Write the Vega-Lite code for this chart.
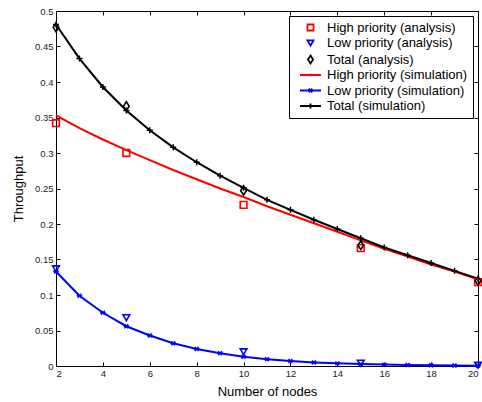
{
  "$schema": "https://vega.github.io/schema/vega-lite/v6.json",
  "autosize": "none",
  "width": 422,
  "height": 355,
  "padding": {"left": 56, "top": 11, "right": 4, "bottom": 36},
  "background": "white",
  "config": {
    "font": "Liberation Sans",
    "view": {"stroke": "black", "strokeWidth": 1},
    "axis": {
      "grid": false, "domain": false, "tickColor": "black", "tickSize": -4, "tickWidth": 1,
      "labelFont": "Liberation Sans", "labelFontSize": 9.5, "labelColor": "#222",
      "titleFont": "Liberation Sans", "titleFontSize": 13, "titleFontWeight": "normal", "titleColor": "black"
    },
    "legend": {
      "labelFont": "Liberation Sans", "labelFontSize": 13, "labelColor": "black",
      "strokeColor": "black", "fillColor": "white", "padding": 5,
      "symbolSize": 36, "symbolStrokeWidth": 1.8, "rowPadding": 1.5,
      "symbolOffset": 10, "labelOffset": 10
    }
  },
  "datasets": {
    "sim": [
      {"n": 2, "series": "High priority (simulation)", "v": 0.353},
      {"n": 3, "series": "High priority (simulation)", "v": 0.335},
      {"n": 4, "series": "High priority (simulation)", "v": 0.319},
      {"n": 5, "series": "High priority (simulation)", "v": 0.304},
      {"n": 6, "series": "High priority (simulation)", "v": 0.290},
      {"n": 7, "series": "High priority (simulation)", "v": 0.276},
      {"n": 8, "series": "High priority (simulation)", "v": 0.263},
      {"n": 9, "series": "High priority (simulation)", "v": 0.250},
      {"n": 10, "series": "High priority (simulation)", "v": 0.238},
      {"n": 11, "series": "High priority (simulation)", "v": 0.225},
      {"n": 12, "series": "High priority (simulation)", "v": 0.213},
      {"n": 13, "series": "High priority (simulation)", "v": 0.201},
      {"n": 14, "series": "High priority (simulation)", "v": 0.189},
      {"n": 15, "series": "High priority (simulation)", "v": 0.177},
      {"n": 16, "series": "High priority (simulation)", "v": 0.165},
      {"n": 17, "series": "High priority (simulation)", "v": 0.154},
      {"n": 18, "series": "High priority (simulation)", "v": 0.143},
      {"n": 19, "series": "High priority (simulation)", "v": 0.133},
      {"n": 20, "series": "High priority (simulation)", "v": 0.122},
      {"n": 2, "series": "Low priority (simulation)", "v": 0.133},
      {"n": 3, "series": "Low priority (simulation)", "v": 0.099},
      {"n": 4, "series": "Low priority (simulation)", "v": 0.075},
      {"n": 5, "series": "Low priority (simulation)", "v": 0.056},
      {"n": 6, "series": "Low priority (simulation)", "v": 0.043},
      {"n": 7, "series": "Low priority (simulation)", "v": 0.032},
      {"n": 8, "series": "Low priority (simulation)", "v": 0.024},
      {"n": 9, "series": "Low priority (simulation)", "v": 0.018},
      {"n": 10, "series": "Low priority (simulation)", "v": 0.013},
      {"n": 11, "series": "Low priority (simulation)", "v": 0.0095},
      {"n": 12, "series": "Low priority (simulation)", "v": 0.007},
      {"n": 13, "series": "Low priority (simulation)", "v": 0.005},
      {"n": 14, "series": "Low priority (simulation)", "v": 0.0037},
      {"n": 15, "series": "Low priority (simulation)", "v": 0.0027},
      {"n": 16, "series": "Low priority (simulation)", "v": 0.002},
      {"n": 17, "series": "Low priority (simulation)", "v": 0.0014},
      {"n": 18, "series": "Low priority (simulation)", "v": 0.001},
      {"n": 19, "series": "Low priority (simulation)", "v": 0.0007},
      {"n": 20, "series": "Low priority (simulation)", "v": 0.0005},
      {"n": 2, "series": "Total (simulation)", "v": 0.481},
      {"n": 3, "series": "Total (simulation)", "v": 0.433},
      {"n": 4, "series": "Total (simulation)", "v": 0.393},
      {"n": 5, "series": "Total (simulation)", "v": 0.360},
      {"n": 6, "series": "Total (simulation)", "v": 0.332},
      {"n": 7, "series": "Total (simulation)", "v": 0.308},
      {"n": 8, "series": "Total (simulation)", "v": 0.287},
      {"n": 9, "series": "Total (simulation)", "v": 0.268},
      {"n": 10, "series": "Total (simulation)", "v": 0.251},
      {"n": 11, "series": "Total (simulation)", "v": 0.234},
      {"n": 12, "series": "Total (simulation)", "v": 0.220},
      {"n": 13, "series": "Total (simulation)", "v": 0.206},
      {"n": 14, "series": "Total (simulation)", "v": 0.193},
      {"n": 15, "series": "Total (simulation)", "v": 0.180},
      {"n": 16, "series": "Total (simulation)", "v": 0.167},
      {"n": 17, "series": "Total (simulation)", "v": 0.156},
      {"n": 18, "series": "Total (simulation)", "v": 0.145},
      {"n": 19, "series": "Total (simulation)", "v": 0.134},
      {"n": 20, "series": "Total (simulation)", "v": 0.123}
    ],
    "ana": [
      {"n": 2, "series": "High priority (analysis)", "v": 0.342},
      {"n": 5, "series": "High priority (analysis)", "v": 0.300},
      {"n": 10, "series": "High priority (analysis)", "v": 0.227},
      {"n": 15, "series": "High priority (analysis)", "v": 0.166},
      {"n": 20, "series": "High priority (analysis)", "v": 0.118},
      {"n": 2, "series": "Low priority (analysis)", "v": 0.137},
      {"n": 5, "series": "Low priority (analysis)", "v": 0.068},
      {"n": 10, "series": "Low priority (analysis)", "v": 0.020},
      {"n": 15, "series": "Low priority (analysis)", "v": 0.004},
      {"n": 20, "series": "Low priority (analysis)", "v": 0.001},
      {"n": 2, "series": "Total (analysis)", "v": 0.477},
      {"n": 5, "series": "Total (analysis)", "v": 0.366},
      {"n": 10, "series": "Total (analysis)", "v": 0.247},
      {"n": 15, "series": "Total (analysis)", "v": 0.170},
      {"n": 20, "series": "Total (analysis)", "v": 0.120}
    ]
  },
  "layer": [
    {
      "encoding": {
        "x": {"field": "n", "type": "quantitative", "title": "Number of nodes",
          "scale": {"domain": [2, 20], "nice": false, "zero": false},
          "axis": {"values": [2,4,6,8,10,12,14,16,18,20], "labelPadding": 6, "titlePadding": 8}},
        "y": {"field": "v", "type": "quantitative", "title": "Throughput",
          "scale": {"domain": [0, 0.5], "nice": false},
          "axis": {"values": [0,0.05,0.1,0.15,0.2,0.25,0.3,0.35,0.4,0.45,0.5], "format": ".2~f", "labelPadding": 7, "titlePadding": 9}},
        "color": {"field": "series", "type": "nominal",
          "scale": {
            "domain": ["High priority (analysis)", "Low priority (analysis)", "Total (analysis)", "High priority (simulation)", "Low priority (simulation)", "Total (simulation)"],
            "range": ["#ff0000", "#0000ff", "#000000", "#ff0000", "#0000ff", "#000000"]},
          "legend": {"title": null, "orient": "none", "legendX": 233, "legendY": 5}}
      },
      "layer": [
        {
          "data": {"name": "sim"},
          "mark": {"type": "line", "strokeWidth": 2, "clip": false}
        },
        {
          "data": {"name": "sim"},
          "transform": [{"filter": "datum.series === 'Total (simulation)'"}],
          "mark": {"type": "point", "filled": false, "shape": "M-1,0L1,0M0,-1L0,1", "size": 36, "strokeWidth": 1.5, "opacity": 1}
        },
        {
          "data": {"name": "sim"},
          "transform": [{"filter": "datum.series === 'Low priority (simulation)'"}],
          "mark": {"type": "point", "filled": false, "shape": "M-1,0L1,0M-0.7,-0.7L0.7,0.7M-0.7,0.7L0.7,-0.7", "size": 30, "strokeWidth": 1.5, "opacity": 1}
        },
        {
          "data": {"name": "ana"},
          "mark": {"type": "point", "filled": false, "size": 45, "strokeWidth": 1.6, "opacity": 1},
          "encoding": {
            "shape": {"field": "series", "type": "nominal",
              "scale": {
                "domain": ["High priority (analysis)", "Low priority (analysis)", "Total (analysis)", "High priority (simulation)", "Low priority (simulation)", "Total (simulation)"],
                "range": ["square", "triangle-down", "M0,-1.3L0.85,0L0,1.3L-0.85,0Z", "M-3.5,0L3.5,0M0,-0.4L0,0.4", "M-3.5,0L3.5,0M-0.6,-0.6L0.6,0.6M-0.6,0.6L0.6,-0.6", "M-3.5,0L3.5,0M0,-0.8L0,0.8"]},
              "legend": {"title": null, "orient": "none", "legendX": 233, "legendY": 5}}
          }
        }
      ]
    },
    {
      "data": {"name": "ana"},
      "mark": {"type": "point", "opacity": 0},
      "encoding": {
        "x": {"field": "n", "type": "quantitative", "scale": {"domain": [2, 20], "nice": false, "zero": false},
          "axis": {"orient": "top", "labels": false, "title": null, "values": [2,4,6,8,10,12,14,16,18,20]}},
        "y": {"field": "v", "type": "quantitative", "scale": {"domain": [0, 0.5], "nice": false},
          "axis": {"orient": "right", "labels": false, "title": null, "values": [0,0.05,0.1,0.15,0.2,0.25,0.3,0.35,0.4,0.45,0.5]}}
      }
    }
  ],
  "resolve": {"axis": {"x": "independent", "y": "independent"}}
}
